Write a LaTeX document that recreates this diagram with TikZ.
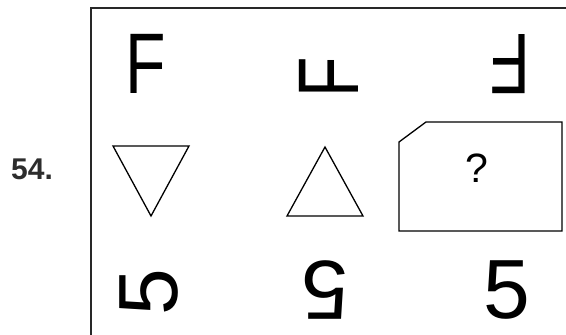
\documentclass[tikz,border=0pt]{standalone}
\usepackage{fontspec}
\setmainfont{Liberation Sans}
\usetikzlibrary{positioning}
\definecolor{frameline}{RGB}{40,40,40}
\definecolor{numtext}{RGB}{45,45,45}
\tikzset{
  glyphF/.style={inner sep=0pt, font=\fontsize{86}{86}\selectfont},
  glyph5/.style={inner sep=0pt, font=\fontsize{84}{84}\selectfont},
  figline/.style={draw=black, line width=1.3pt, line join=miter},
  qmark/.style={inner sep=0pt, font=\fontsize{41}{41}\selectfont},
  qnum/.style={inner sep=0pt, text=numtext, font=\fontsize{30}{30}\selectfont\bfseries},
}

\begin{document}
\begin{tikzpicture}[x=1pt, y=1pt]
  \useasboundingbox (0,0) rectangle (566,335);
  \clip (0,0) rectangle (566,335);

  %% frame and number
  \draw[frameline, line width=2.2pt] (91,-20) rectangle (600,327);
  \node[qnum] (num) at (32,166) {54.};

  %% row 1: F turned
  \node[glyphF, xscale=0.77] (fa) at (146,271) {F};
  \node[glyphF, rotate=90, xscale=0.77] (fb) at (329,257.5) {F};
  \node[glyphF, rotate=180, xscale=0.77] (fc) at (510,271) {F};

  %% row 2: triangles and the missing cell
  \draw[figline] (113,189) -- (189,189) -- (151,119) -- cycle;
  \draw[figline] (325,188) -- (363,119) -- (287,119) -- cycle;
  \draw[figline] (399,104) -- (399,193) -- (426,213) -- (562,213)
                 -- (562,104) -- cycle;
  \node[qmark] (ask) at (477,167) {?};

  %% row 3: 5 turned
  \node[glyph5, rotate=90] (fivea) at (149,43) {5};
  \node[glyph5, rotate=180] (fiveb) at (325,45) {5};
  \node[glyph5] (fivec) at (507,45) {5};
\end{tikzpicture}
\end{document}
